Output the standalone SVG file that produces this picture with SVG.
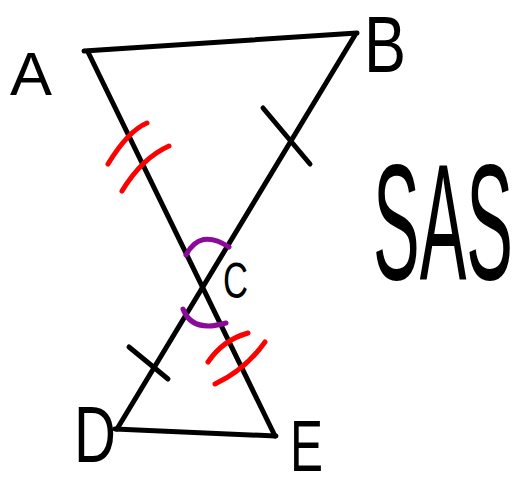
<svg xmlns="http://www.w3.org/2000/svg" width="520" height="487" viewBox="0 0 520 487">
<style>
.ln{stroke:#000;stroke-width:5;fill:none;stroke-linecap:round;stroke-linejoin:round}
.red{stroke:#f00;stroke-width:5;fill:none;stroke-linecap:round}
.pur{stroke:#8b0a9b;stroke-width:5;fill:none;stroke-linecap:round}
.lbl{font-family:"Liberation Sans",Arial,sans-serif;fill:#000}
</style>
<rect width="520" height="487" fill="#fff"/>
<g id="connectors">
<line class="ln" x1="84" y1="51" x2="357" y2="33"/>
<line class="ln" x1="88" y1="52" x2="275" y2="436"/>
<line class="ln" x1="355" y1="35" x2="117" y2="429"/>
<line class="ln" x1="115" y1="429" x2="276" y2="436"/>
</g>
<g id="ticks">
<line class="ln" x1="263" y1="108" x2="310" y2="164"/>
<line class="ln" x1="129" y1="347" x2="168" y2="379"/>
<path class="red" d="M147,123 Q128,131 108,164"/>
<path class="red" d="M169,146 Q142,158 122,191"/>
<path class="red" d="M248,333 Q223,340 208,362"/>
<path class="red" d="M265,342 Q245,370 215,384"/>
<path class="pur" d="M186,255 Q200,228 229,247"/>
<path class="pur" d="M183,309 Q192,333 226,323"/>
</g>
<g id="node-A"><text class="lbl" x="10" y="95" font-size="62" textLength="42" lengthAdjust="spacingAndGlyphs">A</text></g>
<g id="node-B"><text class="lbl" x="364" y="72" font-size="80" textLength="42" lengthAdjust="spacingAndGlyphs">B</text></g>
<g id="node-C"><text class="lbl" x="223" y="298" font-size="50" textLength="25" lengthAdjust="spacingAndGlyphs">C</text></g>
<g id="node-D"><text class="lbl" x="74" y="462" font-size="80" textLength="42" lengthAdjust="spacingAndGlyphs">D</text></g>
<g id="node-E"><text class="lbl" x="290" y="471" font-size="72" textLength="33" lengthAdjust="spacingAndGlyphs">E</text></g>
<g id="label-SAS"><text class="lbl" transform="translate(373,279) scale(1,2.37)" x="0" y="0" font-size="70">SAS</text></g>
</svg>
